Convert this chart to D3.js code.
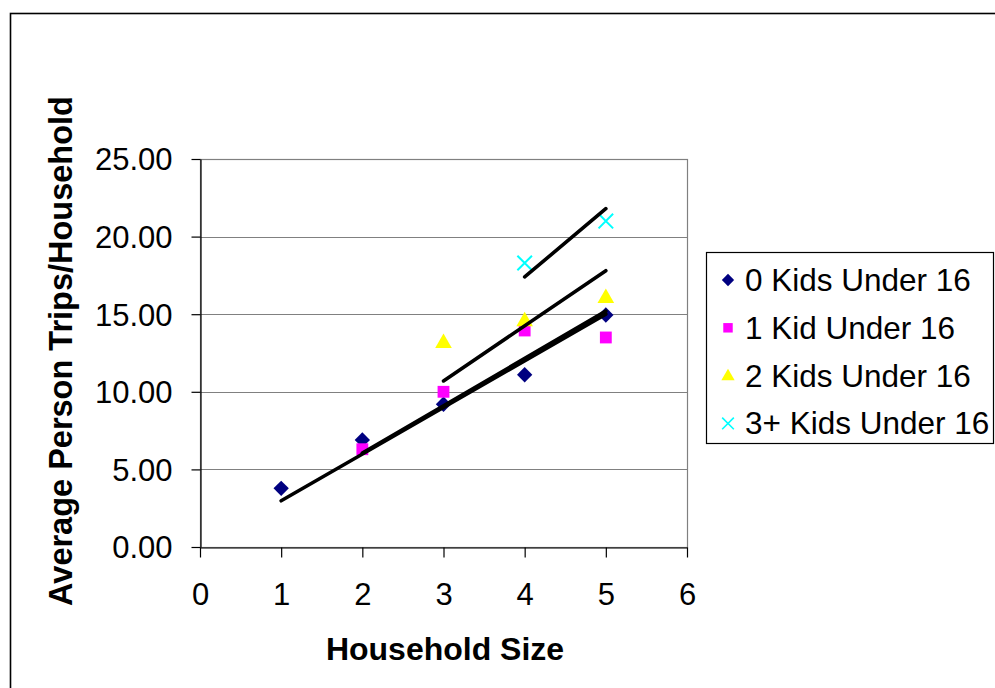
<!DOCTYPE html>
<html>
<head>
<meta charset="utf-8">
<script src="https://cdn.jsdelivr.net/npm/d3@7"></script>
<style>
  body { margin: 0; background: #fff; }
  svg { display: block; font-family: "Liberation Sans", Arial, sans-serif; }
</style>
</head>
<body>
<svg width="995" height="688"></svg>
<script>
// household sizes and avg person trips per household, one list per series
var sizes0 = [1, 2, 3, 4, 5],  trips0 = [3.78, 6.9, 9.2, 11.1, 14.95];
var sizes1 = [2, 3, 4, 5],     trips1 = [6.3, 10.0, 13.95, 13.5];
var sizes2 = [3, 4, 5],        trips2 = [13.2, 14.6, 16.1];
var sizes3 = [4, 5],           trips3 = [18.3, 21.0];

// trendline end points
var trendX0 = [1, 5], trendY0 = [2.98, 15.0];
var trendX1 = [2, 5], trendY1 = [6.05, 15.2];
var trendX2 = [3, 5], trendY2 = [10.7, 17.8];
var trendX3 = [4, 5], trendY3 = [17.4, 21.8];

var seriesNames = ["0 Kids Under 16", "1 Kid Under 16", "2 Kids Under 16", "3+ Kids Under 16"];
var xTicks = [0, 1, 2, 3, 4, 5, 6];
var yTicks = [0, 5, 10, 15, 20, 25];

var svg = d3.select("svg");

var plot = {left: 200, right: 687, top: 159, bottom: 547};

var x = d3.scaleLinear().domain([0, 6]).range([plot.left, plot.right]);
var y = d3.scaleLinear().domain([0, 25]).range([plot.bottom, plot.top]);

// outer chart border
svg.append("rect")
    .attr("x", 10.5).attr("y", 13.5)
    .attr("width", 1100).attr("height", 800)
    .attr("fill", "none")
    .attr("stroke", "#000")
    .attr("stroke-width", 1.6);

// gridlines
svg.append("g").selectAll("line")
    .data(yTicks.filter(function(d) { return d > 0; }))
    .enter().append("line")
      .attr("x1", plot.left).attr("x2", plot.right)
      .attr("y1", function(d) { return Math.round(y(d)) + 0.5; })
      .attr("y2", function(d) { return Math.round(y(d)) + 0.5; })
      .attr("stroke", "#808080")
      .attr("stroke-width", 1.2);

// plot area border
svg.append("rect")
    .attr("x", plot.left + 0.5).attr("y", plot.top + 0.5)
    .attr("width", plot.right - plot.left).attr("height", plot.bottom - plot.top)
    .attr("fill", "none")
    .attr("stroke", "#808080")
    .attr("stroke-width", 1.2);

// axes
var yAxis = svg.append("g")
    .attr("transform", "translate(" + (plot.left + 0.5) + ",0)")
    .call(d3.axisLeft(y).tickValues(yTicks).tickFormat(d3.format(".2f")).tickSize(9).tickPadding(19).tickSizeOuter(0));

var xAxis = svg.append("g")
    .attr("transform", "translate(0," + (plot.bottom + 0.5) + ")")
    .call(d3.axisBottom(x).tickValues(xTicks).tickFormat(d3.format("d")).tickSize(10).tickSizeOuter(0));

[yAxis, xAxis].forEach(function(a) {
  a.selectAll("path, line").attr("stroke", "#000").attr("stroke-width", 1.2);
  a.selectAll("text")
      .attr("fill", "#000")
      .style("font-size", "31px")
      .style("font-family", "Liberation Sans, Arial, sans-serif");
});
yAxis.selectAll("text").attr("dy", "0.35em");
xAxis.selectAll("text").attr("y", 57).attr("dy", 0);

// axis titles
svg.append("text")
    .attr("x", 445).attr("y", 660)
    .attr("text-anchor", "middle")
    .style("font-size", "32px").style("font-weight", "bold")
    .text("Household Size");

svg.append("text")
    .attr("transform", "translate(72,351) rotate(-90)")
    .attr("text-anchor", "middle")
    .style("font-size", "32.5px").style("font-weight", "bold")
    .text("Average Person Trips/Household");

// marker drawing
var colors = ["#000080", "#FF00FF", "#FFFF00", "#00FFFF"];
var shapes = [
  d3.symbol().type(d3.symbolDiamond2).size(150),
  d3.symbol().type(d3.symbolSquare).size(140),
  d3.symbol().type(d3.symbolTriangle).size(120),
  d3.symbol().type(d3.symbolX).size(140)
];

function drawMarker(g, i) {
  var p = g.append("path").attr("d", shapes[i]());
  if (i == 3) {
    p.attr("fill", "none").attr("stroke", colors[i]).attr("stroke-width", 2);
  } else {
    p.attr("fill", colors[i]);
  }
  if (i == 2) p.attr("transform", "translate(0,1)");
}

var series = [[sizes0, trips0], [sizes1, trips1], [sizes2, trips2], [sizes3, trips3]];
series.forEach(function(s, i) {
  s[0].forEach(function(hx, j) {
    var g = svg.append("g")
        .attr("transform", "translate(" + x(hx) + "," + y(s[1][j]) + ")");
    drawMarker(g, i);
  });
});

// trendlines
var line = d3.line()
    .x(function(d) { return x(d[0]); })
    .y(function(d) { return y(d[1]); });

[[trendX0, trendY0], [trendX1, trendY1], [trendX2, trendY2], [trendX3, trendY3]].forEach(function(t) {
  svg.append("path")
      .datum(d3.zip(t[0], t[1]))
      .attr("d", line)
      .attr("fill", "none")
      .attr("stroke", "#000")
      .attr("stroke-width", 3.6)
      .attr("stroke-linecap", "round");
});

// legend
var legend = svg.append("g");
legend.append("rect")
    .attr("x", 706.5).attr("y", 252.5)
    .attr("width", 287).attr("height", 191)
    .attr("fill", "#fff")
    .attr("stroke", "#000")
    .attr("stroke-width", 1.2);

seriesNames.forEach(function(name, i) {
  var base = 291 + i * 47.8;
  var g = legend.append("g").attr("transform", "translate(728," + (base - 11) + ") scale(0.8)");
  drawMarker(g, i);
  legend.append("text")
      .attr("x", 745).attr("y", base)
      .style("font-size", "31.5px")
      .text(name);
});
</script>
</body>
</html>
